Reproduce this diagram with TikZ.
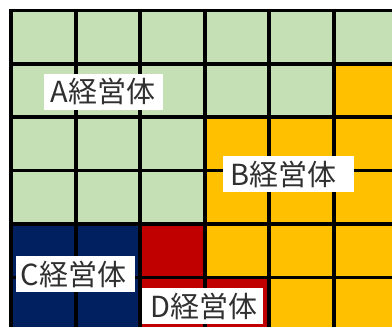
\documentclass[tikz,border=0pt]{standalone}
\usepackage{fontspec}
\newfontfamily\cjk{Noto Sans CJK JP}
\definecolor{cgreen}{HTML}{C5E0B4}
\definecolor{corange}{HTML}{FFC000}
\definecolor{cnavy}{HTML}{002060}
\definecolor{cred}{HTML}{C00000}
\definecolor{ctext}{HTML}{303030}
\begin{document}
\begin{tikzpicture}[x=1pt,y=-1pt,
  gridline/.style={line width=3.6pt,black},
  tag/.style={fill=white,inner xsep=0pt,inner ysep=0pt,minimum height=36pt,
    text width=#1, align=left, font=\cjk\fontsize{29}{30}\selectfont, text=ctext},
]
\useasboundingbox (0,0) rectangle (392,327);
\clip (0,0) rectangle (392,327);
\def\xs{64.5}\def\ys{53.4}\def\xo{11.2}\def\yo{10.3}
% colour map: rows top to bottom
\foreach \r/\row in {0/{G,G,G,G,G,G},1/{G,G,G,G,G,O},2/{G,G,G,O,O,O},3/{G,G,G,O,O,O},4/{N,N,R,O,O,O},5/{N,N,R,R,O,O}}{
  \foreach \k [count=\c from 0] in \row {
    \if\k G\def\cc{cgreen}\fi
    \if\k O\def\cc{corange}\fi
    \if\k N\def\cc{cnavy}\fi
    \if\k R\def\cc{cred}\fi
    \fill[\cc] ({\xo+\c*\xs},{\yo+\r*\ys}) rectangle ({\xo+(\c+1)*\xs},{\yo+(\r+1)*\ys});
  }
}
\foreach \i in {0,...,6}{
  \draw[gridline] ({\xo+\i*\xs},{\yo-1.8}) -- ({\xo+\i*\xs},340);
  \draw[gridline] ({\xo-1.8},{\yo+\i*\ys}) -- (400,{\yo+\i*\ys});
}
\node[tag=119pt] (A) at (103.5,91.5) {\hspace*{7pt}A経営体};
\node[tag=131pt] (B) at (288.5,174) {\hspace*{7pt}B経営体};
\node[tag=119pt] (C) at (75.5,274) {\hspace*{5pt}C経営体};
\node[tag=121pt] (D) at (202.5,306) {\hspace*{9pt}D経営体};
\end{tikzpicture}
\end{document}
